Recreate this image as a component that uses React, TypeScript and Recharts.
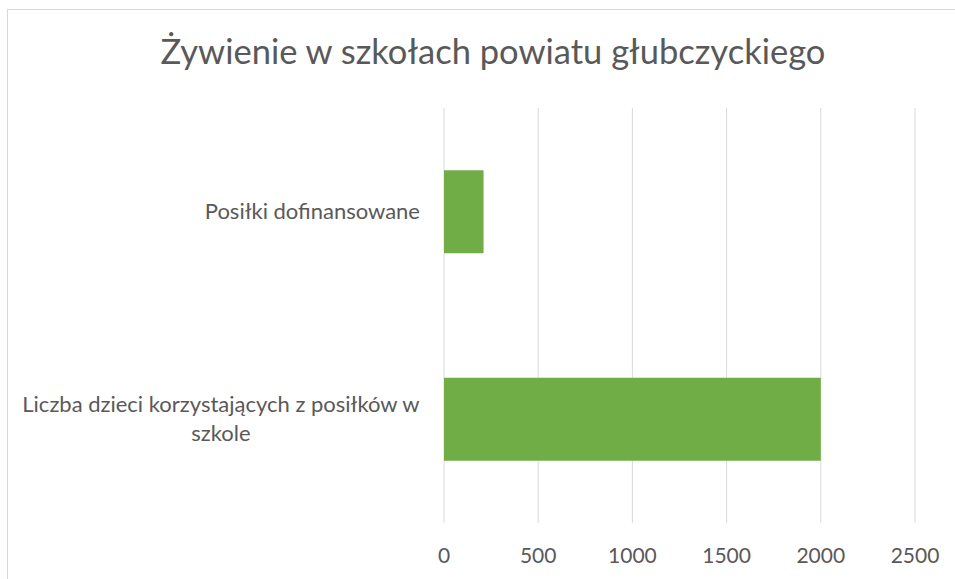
import React from "react";
import { BarChart, Bar, XAxis, YAxis, CartesianGrid } from "recharts";

const title = "Żywienie w szkołach powiatu głubczyckiego";
const categories = ["Posiłki dofinansowane", "Liczba dzieci korzystających z posiłków w szkole"];
const categoryLines = [["Posiłki dofinansowane"], ["Liczba dzieci korzystających z posiłków w", "szkole"]];
const values = [210, 2000];
const xTicks = [0, 500, 1000, 1500, 2000, 2500];

const data = categories.map((c, i) => ({ name: c, value: values[i] }));

const FONT = "Lato";
const LABEL_SIZE = 22;
const TICK_SIZE = 21;
const TEXT_COLOR = "#595959";

let canvasCtx: CanvasRenderingContext2D | null = null;
function measure(text: string, size: number) {
  if (!canvasCtx) {
    const c = document.createElement("canvas");
    canvasCtx = c.getContext("2d");
  }
  if (!canvasCtx) return text.length * size * 0.5;
  canvasCtx.font = `${size}px "${FONT}"`;
  return canvasCtx.measureText(text).width;
}

const CategoryTick = (props: any) => {
  const { x, y, payload } = props;
  const idx = categories.indexOf(payload.value);
  const lines = idx >= 0 ? categoryLines[idx] : [String(payload.value)];
  const blockW = Math.max(...lines.map((l) => measure(l, LABEL_SIZE)));
  const lh = 29;
  const cx = x - blockW / 2;
  const startY = y - ((lines.length - 1) * lh) / 2;
  return (
    <g>
      {lines.map((l, i) => (
        <text
          key={i}
          x={cx}
          y={startY + i * lh}
          dy="0.35em"
          textAnchor="middle"
          fill={TEXT_COLOR}
          fontFamily={FONT}
          fontSize={LABEL_SIZE}
        >
          {l}
        </text>
      ))}
    </g>
  );
};

export default function App() {
  return (
    <div style={{ position: "fixed", left: 0, top: 0, width: 955, height: 579, overflow: "hidden", background: "#fff" }}>
      <div
        style={{
          position: "absolute",
          left: 7,
          top: 9,
          width: 960,
          height: 590,
          border: "1px solid #d9d9d9",
          background: "#fff",
        }}
      >
        <div
          style={{
            position: "absolute",
            left: 0,
            top: 21,
            width: 970,
            textAlign: "center",
            fontFamily: FONT,
            fontSize: 34.5,
            color: TEXT_COLOR,
            whiteSpace: "nowrap",
            lineHeight: "40px",
          }}
        >
          {title}
        </div>
        <div style={{ position: "absolute", left: 0, top: 0 }}>
          <BarChart
            width={947}
            height={569}
            data={data}
            layout="vertical"
            barCategoryGap="30%"
            margin={{ top: 98, right: 40, left: 0, bottom: 0 }}
          >
            <CartesianGrid horizontal={false} stroke="#d9d9d9" strokeWidth={1} />
            <XAxis
              type="number"
              domain={[0, 2500]}
              ticks={xTicks}
              axisLine={false}
              tickLine={false}
              tickSize={0}
              tickMargin={25}
              height={56}
              tick={{ fill: TEXT_COLOR, fontFamily: FONT, fontSize: TICK_SIZE }}
              interval={0}
            />
            <YAxis
              type="category"
              dataKey="name"
              width={436}
              axisLine={false}
              tickLine={false}
              tickSize={0}
              tickMargin={24}
              tick={<CategoryTick />}
              interval={0}
            />
            <Bar dataKey="value" fill="#70ad47" isAnimationActive={false} />
          </BarChart>
        </div>
      </div>
    </div>
  );
}
